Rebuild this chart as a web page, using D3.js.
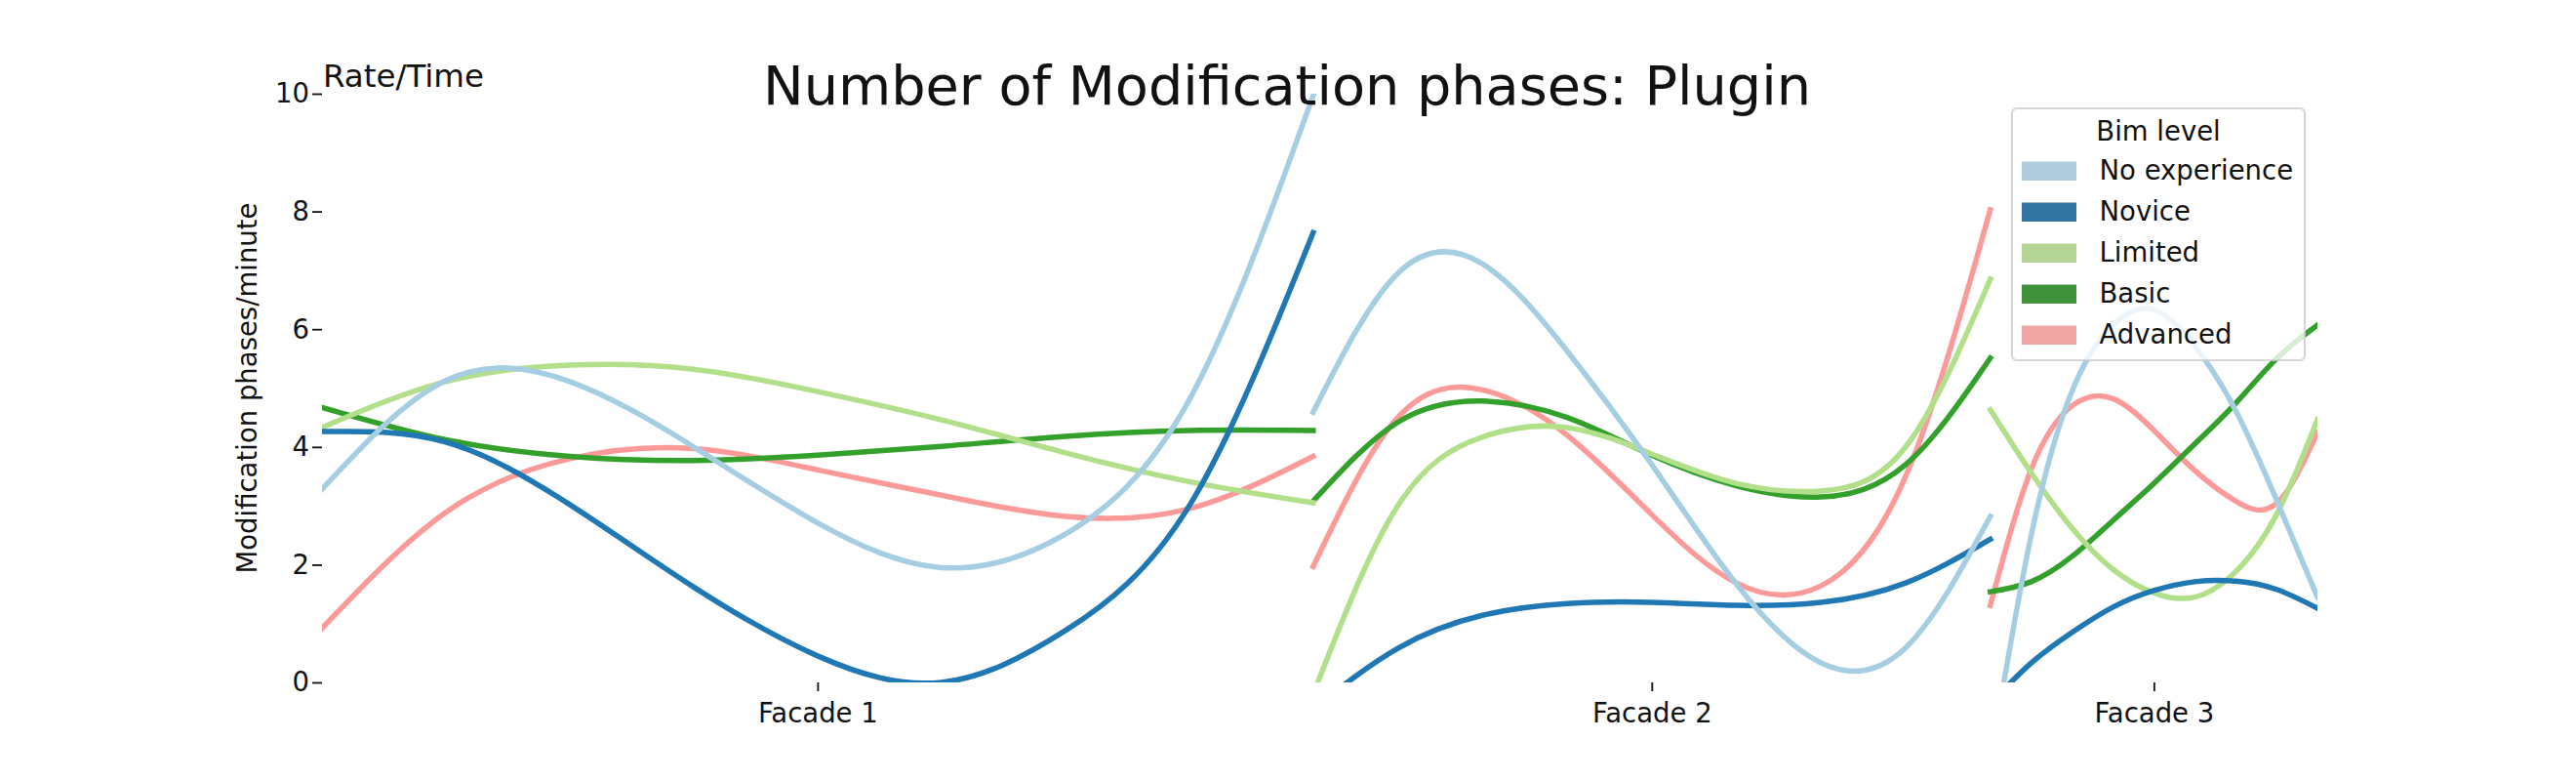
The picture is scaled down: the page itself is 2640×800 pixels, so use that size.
<!DOCTYPE html>
<html>
<head>
<meta charset="utf-8">
<script src="https://cdn.jsdelivr.net/npm/d3@7"></script>
<style>
  body { margin: 0; background: #fff; }
  text { font-family: "DejaVu Sans", sans-serif; fill: #111; }
</style>
</head>
<body>
<div id="chart"></div>
<script>
const width = 2640;
const height = 800;

// facades on the time axis (minutes), each one drawn as its own smoothed segment
const facades = ['Facade 1', 'Facade 2', 'Facade 3'];
const facadeEdges = [0, 30.3, 51, 61];

const levels = ['No experience', 'Novice', 'Limited', 'Basic', 'Advanced'];

// rate read at 9 evenly spaced moments inside each facade
const noExperience = [
  [3.28, 5.13, 5.11, 4.00, 2.71, 1.95, 2.52, 4.80, 9.97],
  [4.59, 6.95, 7.11, 5.63, 3.70, 1.67, 0.33, 0.59, 2.82],
  [-1.35, 2.50, 4.95, 6.07, 6.33, 5.72, 4.62, 3.10, 1.45]
];
const novice = [
  [4.26, 4.08, 3.02, 1.62, 0.45, 0.00, 0.88, 3.00, 7.64],
  [-0.45, 0.58, 1.14, 1.34, 1.36, 1.31, 1.36, 1.69, 2.43],
  [-0.36, 0.33, 0.85, 1.28, 1.56, 1.71, 1.72, 1.58, 1.26]
];
const limited = [
  [4.33, 5.11, 5.39, 5.32, 4.94, 4.46, 3.90, 3.41, 3.05],
  [-0.2, 3.00, 4.17, 4.33, 3.88, 3.38, 3.25, 4.00, 6.85],
  [4.63, 3.56, 2.62, 1.92, 1.52, 1.45, 1.88, 2.85, 4.46]
];
const basic = [
  [4.67, 4.12, 3.84, 3.77, 3.86, 4.01, 4.18, 4.28, 4.28],
  [3.08, 4.42, 4.78, 4.50, 3.86, 3.34, 3.15, 3.70, 5.51],
  [1.54, 1.71, 2.14, 2.75, 3.38, 4.05, 4.74, 5.50, 6.07]
];
const advanced = [
  [0.92, 2.89, 3.80, 3.97, 3.61, 3.18, 2.82, 2.95, 3.84],
  [1.97, 4.50, 4.97, 4.20, 2.85, 1.69, 1.64, 3.50, 8.03],
  [1.31, 3.62, 4.70, 4.82, 4.28, 3.60, 3.08, 3.04, 4.24]
];
const seriesValues = [noExperience, novice, limited, basic, advanced];

const yTicks = [0, 2, 4, 6, 8, 10];

const margin = { left: 330, right: 265, top: 96, bottom: 101 };

const colors = d3.schemePaired.slice(0, 5);
// legend patches use the desaturated hue like seaborn does
const patchColors = colors.map(c => {
  const h = d3.hsl(c);
  h.s *= 0.75;
  return h.formatHex();
});

const svg = d3.select('#chart')
  .append('svg')
  .attr('width', width)
  .attr('height', height);

svg.append('rect')
  .attr('width', width)
  .attr('height', height)
  .attr('fill', '#fff');

const x = d3.scaleLinear()
  .domain([facadeEdges[0], facadeEdges[facadeEdges.length - 1]])
  .range([margin.left, width - margin.right]);

const y = d3.scaleLinear()
  .domain([0, 10])
  .range([height - margin.bottom, margin.top]);

svg.append('defs')
  .append('clipPath')
  .attr('id', 'plot-clip')
  .append('rect')
  .attr('x', x.range()[0])
  .attr('y', y(10))
  .attr('width', x.range()[1] - x.range()[0])
  .attr('height', y(0) - y(10));

// build the segments: one per level and facade
const segments = [];
levels.forEach((level, li) => {
  facades.forEach((f, fi) => {
    const t0 = facadeEdges[fi];
    const t1 = facadeEdges[fi + 1];
    const vals = seriesValues[li][fi];
    const pts = vals.map((v, i) => ({ t: t0 + (t1 - t0) * i / (vals.length - 1), v }));
    segments.push({ level, li, pts });
  });
});

const line = d3.line()
  .x(d => x(d.t))
  .y(d => y(d.v))
  .curve(d3.curveNatural);

const lineG = svg.append('g')
  .attr('clip-path', 'url(#plot-clip)');

lineG.selectAll('path')
  .data(segments.slice().sort((a, b) => b.li - a.li))
  .join('path')
  .attr('d', d => line(d.pts))
  .attr('fill', 'none')
  .attr('stroke', d => colors[d.li])
  .attr('stroke-width', 5.5)
  .attr('stroke-linecap', 'square');

// y axis, no spine
const yAxis = svg.append('g')
  .attr('transform', `translate(${margin.left},0)`)
  .call(d3.axisLeft(y).tickValues(yTicks).tickSizeInner(10).tickSizeOuter(0).tickPadding(3));
yAxis.select('.domain').remove();
yAxis.selectAll('line').attr('stroke', '#111').attr('stroke-width', 1.8);
yAxis.selectAll('text').style('font-size', '27.5px').attr('fill', '#111');

// x axis at facade centres
const xAxis = svg.append('g')
  .attr('transform', `translate(0,${y(0)})`)
  .call(d3.axisBottom(x)
    .tickValues(facades.map((f, i) => (facadeEdges[i] + facadeEdges[i + 1]) / 2))
    .tickFormat((d, i) => facades[i])
    .tickSizeInner(9).tickSizeOuter(0).tickPadding(12));
xAxis.select('.domain').remove();
xAxis.selectAll('line').attr('stroke', '#111').attr('stroke-width', 1.8);
xAxis.selectAll('text').style('font-size', '27.5px').attr('fill', '#111');

svg.append('text')
  .attr('transform', `translate(263,${(y(0) + y(10)) / 2}) rotate(-90)`)
  .attr('text-anchor', 'middle')
  .style('font-size', '27.5px')
  .text('Modification phases/minute');

svg.append('text')
  .attr('x', 331)
  .attr('y', 89)
  .style('font-size', '32.5px')
  .text('Rate/Time');

svg.append('text')
  .attr('x', 1319)
  .attr('y', 107)
  .attr('text-anchor', 'middle')
  .style('font-size', '55.7px')
  .text('Number of Modification phases: Plugin');

// legend
const legend = svg.append('g')
  .attr('transform', 'translate(2062,111)');

legend.append('rect')
  .attr('width', 300)
  .attr('height', 258)
  .attr('rx', 5)
  .attr('fill', '#fff')
  .attr('fill-opacity', 0.8)
  .attr('stroke', '#ccc')
  .attr('stroke-opacity', 0.8)
  .attr('stroke-width', 2);

legend.append('text')
  .attr('x', 150)
  .attr('y', 32.5)
  .attr('text-anchor', 'middle')
  .style('font-size', '27.5px')
  .text('Bim level');

const rows = legend.selectAll('.row')
  .data(levels)
  .join('g')
  .attr('class', 'row')
  .attr('transform', (d, i) => `translate(10,${54.5 + i * 42})`);

rows.append('rect')
  .attr('width', 56)
  .attr('height', 19.5)
  .attr('fill', (d, i) => patchColors[i]);

rows.append('text')
  .attr('x', 79.5)
  .attr('y', 18)
  .style('font-size', '27.5px')
  .text(d => d);
</script>
</body>
</html>
